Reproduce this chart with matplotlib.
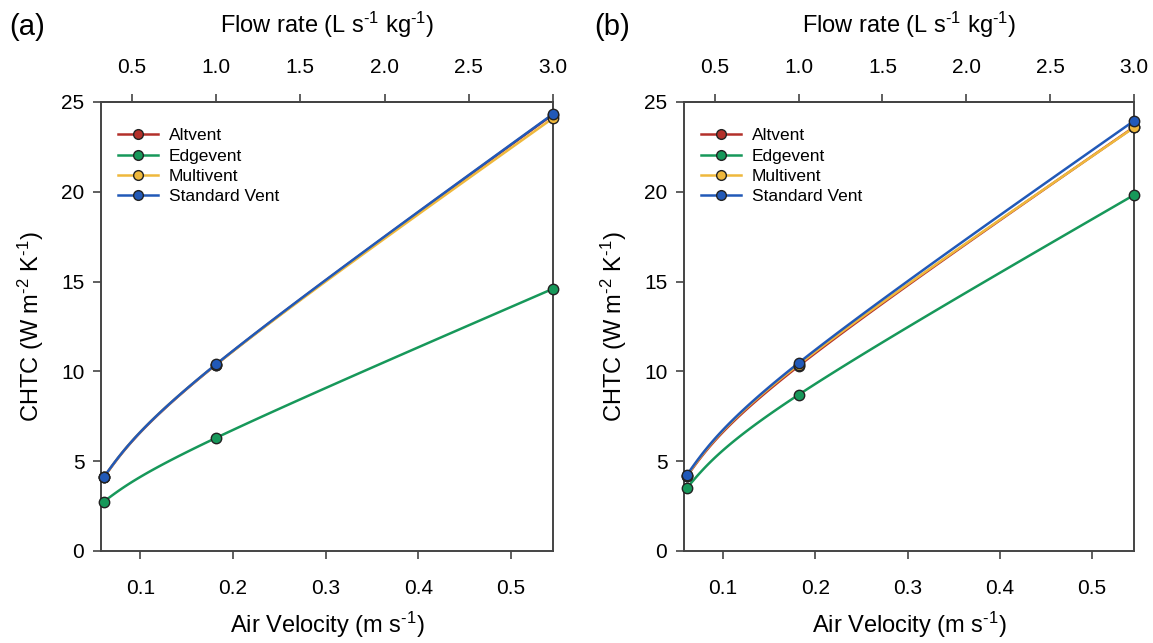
import numpy as np
import matplotlib.pyplot as plt

plt.rcParams['font.family'] = ['Liberation Sans', 'DejaVu Sans']
plt.rcParams['mathtext.fontset'] = 'custom'
plt.rcParams['mathtext.rm'] = 'Liberation Sans'
plt.rcParams['mathtext.it'] = 'Liberation Sans:italic'

# flow rate (L s-1 kg-1) and matching air velocity (m s-1)
flow = np.array([1/3, 1.0, 3.0])
k = 0.5454 / 3.0
velocity = flow * k

names = ['Altvent', 'Edgevent', 'Multivent', 'Standard Vent']
colors = ['#b3302a', '#17985a', '#efb83c', '#2159b8']

# CHTC (W m-2 K-1), panel (a)
chtc_a = {
    'Altvent': [4.10, 10.38, 24.30],
    'Edgevent': [2.75, 6.30, 14.60],
    'Multivent': [4.10, 10.38, 24.10],
    'Standard Vent': [4.12, 10.40, 24.33],
}
# CHTC (W m-2 K-1), panel (b)
chtc_b = {
    'Altvent': [4.15, 10.30, 23.60],
    'Edgevent': [3.50, 8.70, 19.82],
    'Multivent': [4.18, 10.38, 23.58],
    'Standard Vent': [4.23, 10.47, 23.95],
}


def natural_spline(v, n=60):
    # natural cubic spline of v against the point index, sampled between points
    v = np.asarray(v, float)
    m = len(v)
    A = np.zeros((m, m))
    r = np.zeros(m)
    A[0, 0] = A[-1, -1] = 1
    for i in range(1, m - 1):
        A[i, i - 1:i + 2] = [1, 4, 1]
        r[i] = 6 * (v[i + 1] - 2 * v[i] + v[i - 1])
    M = np.linalg.solve(A, r)
    out = []
    for i in range(m - 1):
        t = np.linspace(0, 1, n)
        s = ((1 - t) * v[i] + t * v[i + 1]
             + ((1 - t) ** 3 - (1 - t)) * M[i] / 6 + (t ** 3 - t) * M[i + 1] / 6)
        out.append(s if i == 0 else s[1:])
    return np.concatenate(out)


def panel(ax, data):
    for name, col in zip(names, colors):
        y = np.array(data[name])
        ax.plot(natural_spline(velocity), natural_spline(y), color=col, lw=1.8, zorder=2)
        ax.plot(velocity, y, 'o', color=col, mec='#222222', mew=1.0, ms=7.5, zorder=3, clip_on=False)
        ax.plot([], [], '-o', color=col, mec='#222222', mew=1.0, ms=7, lw=1.8, label=name)
    ax.set_xlim(0.0575, 0.5454)
    ax.set_ylim(0, 25)
    ax.set_xticks([0.1, 0.2, 0.3, 0.4, 0.5])
    ax.set_yticks([0, 5, 10, 15, 20, 25])
    for s in ax.spines.values():
        s.set_color('#444444')
        s.set_linewidth(1.4)
    ax.tick_params(direction='out', length=6, width=1.2, color='#444444', labelsize=15, pad=14)
    ax.tick_params(axis='y', pad=6)
    ax.set_xlabel(r'Air Velocity (m s$^{\text{-1}}$)', fontsize=17, labelpad=9)
    ax.set_ylabel(r'CHTC (W m$^{\text{-2}}$ K$^{\text{-1}}$)', fontsize=17, labelpad=11)
    top = ax.secondary_xaxis('top', functions=(lambda v: v / k, lambda f: f * k))
    top.set_xticks([0.5, 1.0, 1.5, 2.0, 2.5, 3.0])
    top.set_xticklabels(['0.5', '1.0', '1.5', '2.0', '2.5', '3.0'])
    top.spines['top'].set_color('#444444')
    top.spines['top'].set_linewidth(1.4)
    top.tick_params(direction='out', length=6, width=1.2, color='#444444', labelsize=15, pad=12)
    top.set_xlabel(r'Flow rate (L s$^{\text{-1}}$ kg$^{\text{-1}}$)', fontsize=17, labelpad=18)
    ax.legend(loc='upper left', bbox_to_anchor=(0.022, 0.957), borderaxespad=0, frameon=False,
              fontsize=12.5, handlelength=2.3, handletextpad=0.63, labelspacing=0.3)


fig = plt.figure(figsize=(11.53, 6.43), dpi=100)
ax1 = fig.add_axes([0.0876, 0.1431, 0.392, 0.6983])
ax2 = fig.add_axes([0.5932, 0.1431, 0.3903, 0.6983])
panel(ax1, chtc_a)
panel(ax2, chtc_b)
fig.text(0.008, 0.958, '(a)', fontsize=21, va='center')
fig.text(0.515, 0.958, '(b)', fontsize=21, va='center')

fig.savefig('out.png', dpi=100)
